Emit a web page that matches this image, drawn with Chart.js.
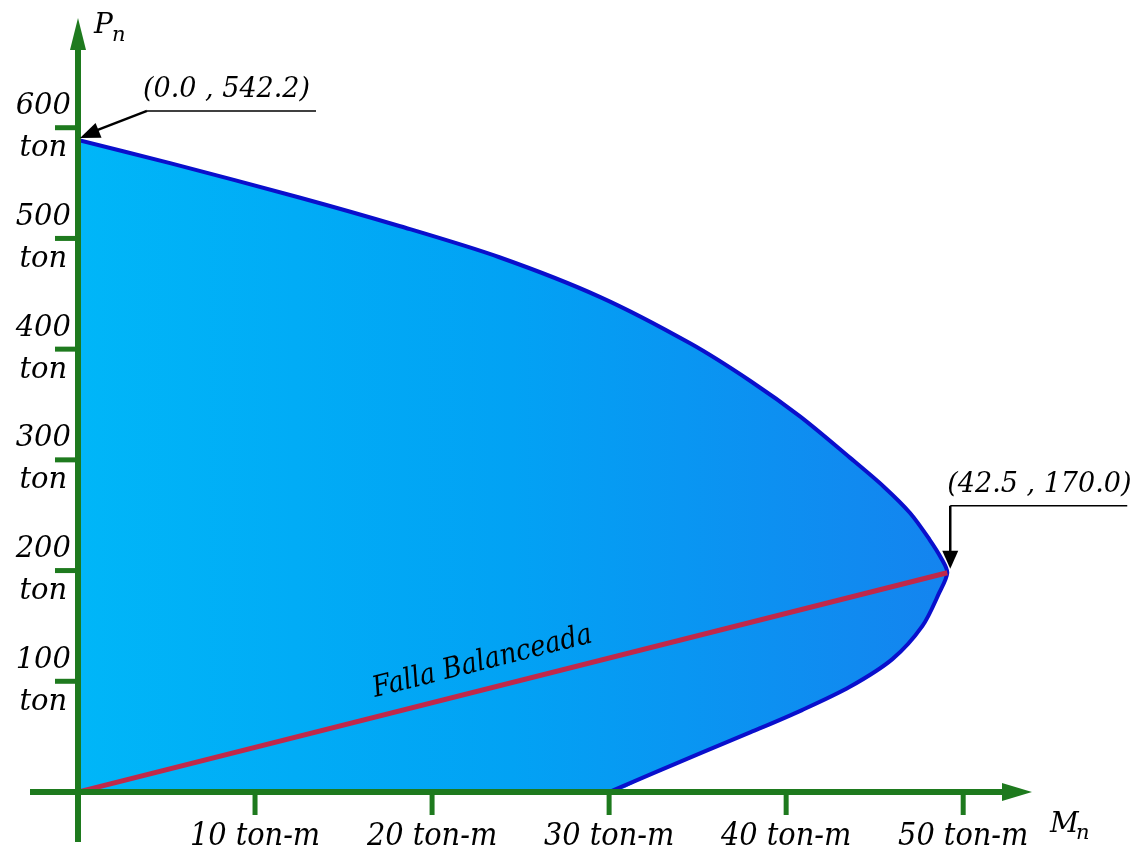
<!DOCTYPE html>
<html>
<head>
<meta charset="utf-8">
<script src="https://cdn.jsdelivr.net/npm/chart.js@4.4.0/dist/chart.umd.min.js"></script>
<style>
  html, body { margin: 0; padding: 0; background: #fff; }
  #wrap { width: 1142px; height: 855px; position: relative; }
</style>
</head>
<body>
<div id="wrap"><canvas id="diagram"></canvas></div>
<script>
// interaction curve (Mn in ton-m, Pn in ton)
const momentPts = [0, 5.2, 12.5, 18.2, 23.8, 29.5, 34.6, 38.0, 40.8, 43.6, 45.5, 47.0, 48.1, 48.8, 49.1,
                   48.65, 47.7, 46.0, 43.6, 40.9, 38.0, 35.3, 32.5, 30.0];
const loadPts   = [589, 568, 537, 511, 483, 447, 405, 371, 339, 302, 276, 252, 228, 210, 198,
                   180, 150, 120, 95, 74, 54, 36, 17, 0];

// balanced failure line: origin -> balanced point
const balancedMoment = [0, 49.1];
const balancedLoad   = [0, 198];

const xTickValues = [10, 20, 30, 40, 50];
const yTickValues = [100, 200, 300, 400, 500, 600];
const xTickUnit = 'ton-m';
const yTickUnit = 'ton';

const pointLabels = ['(0.0 , 542.2)', '(42.5 , 170.0)'];
const lineLabel = 'Falla Balanceada';

const GREEN = '#1e7a1e';
const OUTLINE = '#0a0fcc';
const RED = '#c0284a';
const SERIF = "'DejaVu Serif', 'Liberation Serif', serif";
const SERIF_C = "'DejaVu Serif Condensed', 'DejaVu Serif', serif";

const curve = momentPts.map((m, i) => ({ x: m, y: loadPts[i] }));
// closed region: the curve, then back to the origin
const region = curve.concat([{ x: 0, y: 0 }]);
const balanced = balancedMoment.map((m, i) => ({ x: m, y: balancedLoad[i] }));

function line(ctx, x1, y1, x2, y2) {
  ctx.beginPath(); ctx.moveTo(x1, y1); ctx.lineTo(x2, y2); ctx.stroke();
}
function arrowHead(ctx, tx, ty, fx, fy, len, half) {
  const d = Math.hypot(tx - fx, ty - fy);
  const ux = (tx - fx) / d, uy = (ty - fy) / d;
  const bx = tx - ux * len, by = ty - uy * len;
  ctx.beginPath();
  ctx.moveTo(tx, ty);
  ctx.lineTo(bx - uy * half, by + ux * half);
  ctx.lineTo(bx + uy * half, by - ux * half);
  ctx.closePath();
  ctx.fill();
}

const overlay = {
  id: 'overlay',
  afterDraw(chart) {
    const { ctx, chartArea: a, scales: { x, y } } = chart;
    const ox = x.getPixelForValue(0), oy = y.getPixelForValue(0);
    ctx.save();

    // axes + tick marks
    ctx.strokeStyle = GREEN; ctx.fillStyle = GREEN;
    ctx.lineWidth = 5;
    yTickValues.forEach(v => { const py = y.getPixelForValue(v); line(ctx, ox - 23, py, ox, py); });
    xTickValues.forEach(v => { const px = x.getPixelForValue(v); line(ctx, px, oy, px, oy + 23); });
    ctx.lineWidth = 6;
    line(ctx, ox, oy + 50, ox, a.top + 20);
    line(ctx, ox - 48, oy, a.right - 20, oy);
    arrowHead(ctx, ox, a.top + 1, ox, a.top + 40, 32, 8);
    arrowHead(ctx, a.right - 2, oy, a.right - 40, oy, 30, 9);

    // axis names
    ctx.fillStyle = '#000';
    ctx.textAlign = 'left'; ctx.textBaseline = 'alphabetic';
    ctx.font = 'italic 28px ' + SERIF;
    ctx.fillText('P', ox + 16, 33);
    ctx.fillText('M', a.right + 16, oy + 40);
    ctx.font = 'italic 21px ' + SERIF;
    ctx.fillText('n', ox + 34, 41);
    ctx.fillText('n', a.right + 42, oy + 47);

    // top point callout
    const p1x = x.getPixelForValue(curve[0].x), p1y = y.getPixelForValue(curve[0].y);
    ctx.strokeStyle = '#000'; ctx.fillStyle = '#000';
    ctx.lineWidth = 1.5;
    line(ctx, p1x + 69, p1y - 29, p1x + 238, p1y - 29);
    ctx.lineWidth = 2.5;
    line(ctx, p1x + 69, p1y - 29, p1x + 12, p1y - 7);
    arrowHead(ctx, p1x + 2, p1y - 2, p1x + 69, p1y - 29, 20, 8);
    ctx.font = 'italic 27px ' + SERIF;
    ctx.fillText(pointLabels[0], p1x + 65, p1y - 43);

    // balanced point callout
    const p2x = x.getPixelForValue(balancedMoment[1]), p2y = y.getPixelForValue(balancedLoad[1]);
    const vx = p2x + 3;
    ctx.lineWidth = 1.5;
    line(ctx, vx, p2y - 67, vx + 177, p2y - 67);
    ctx.lineWidth = 2.5;
    line(ctx, vx, p2y - 67, vx, p2y - 20);
    arrowHead(ctx, vx, p2y - 4, vx, p2y - 60, 18, 8);
    ctx.font = 'italic 27px ' + SERIF;
    ctx.fillText(pointLabels[1], p2x, p2y - 81);

    // rotated label along the balanced line
    const ang = Math.atan2(p2y - oy, p2x - ox);
    const t = 0.473;
    const cx = ox + (p2x - ox) * t, cy = oy + (p2y - oy) * t;
    ctx.translate(cx + Math.sin(ang) * 27, cy - Math.cos(ang) * 27);
    ctx.rotate(ang);
    ctx.textAlign = 'center'; ctx.textBaseline = 'middle';
    ctx.font = 'italic 29px ' + SERIF_C;
    ctx.fillText(lineLabel, 0, 0);
    ctx.restore();
  }
};

function regionFill(context) {
  const c = context.chart;
  const a = c.chartArea;
  if (!a) return '#00a8f5';
  const g = c.ctx.createLinearGradient(a.left, 0, c.scales.x.getPixelForValue(49), 0);
  g.addColorStop(0, '#00b6f8');
  g.addColorStop(0.5, '#02a2f4');
  g.addColorStop(1, '#1484ef');
  return g;
}

new Chart(document.getElementById('diagram'), {
  type: 'scatter',
  data: {
    datasets: [
      {
        label: 'region',
        data: region,
        showLine: true,
        fill: 'shape',
        backgroundColor: regionFill,
        borderColor: 'rgba(0,0,0,0)',
        borderWidth: 0,
        pointRadius: 0,
        tension: 0.3,
        order: 3
      },
      {
        label: 'curve',
        data: curve,
        showLine: true,
        fill: false,
        borderColor: OUTLINE,
        borderWidth: 4,
        pointRadius: 0,
        tension: 0.3,
        order: 2
      },
      {
        label: 'balanced',
        data: balanced,
        showLine: true,
        fill: false,
        borderColor: RED,
        borderWidth: 5,
        pointRadius: 0,
        order: 1
      }
    ]
  },
  options: {
    responsive: true,
    maintainAspectRatio: false,
    animation: false,
    layout: { padding: { left: 0, right: 108, top: 17, bottom: 0 } },
    plugins: { legend: { display: false }, tooltip: { enabled: false } },
    scales: {
      x: {
        type: 'linear', min: 0, max: 54,
        grid: { display: false, drawTicks: false },
        border: { display: false },
        afterBuildTicks: s => { s.ticks = xTickValues.map(v => ({ value: v })); },
        afterFit: s => { s.height = 63; s.paddingLeft = 0; s.paddingRight = 0; },
        ticks: {
          callback: v => v + ' ' + xTickUnit,
          color: '#000',
          padding: 25,
          maxRotation: 0,
          autoSkip: false,
          font: { family: SERIF_C, style: 'italic', size: 32 }
        }
      },
      y: {
        type: 'linear', min: 0, max: 700,
        grid: { display: false, drawTicks: false },
        border: { display: false },
        afterBuildTicks: s => { s.ticks = yTickValues.map(v => ({ value: v })); },
        afterFit: s => { s.width = 78; s.paddingTop = 0; s.paddingBottom = 0; },
        ticks: {
          callback: v => [String(v), yTickUnit],
          color: '#000',
          crossAlign: 'center',
          padding: 7,
          autoSkip: false,
          font: { family: SERIF, style: 'italic', size: 29, lineHeight: 1.45 }
        }
      }
    }
  },
  plugins: [overlay]
});
</script>
</body>
</html>
